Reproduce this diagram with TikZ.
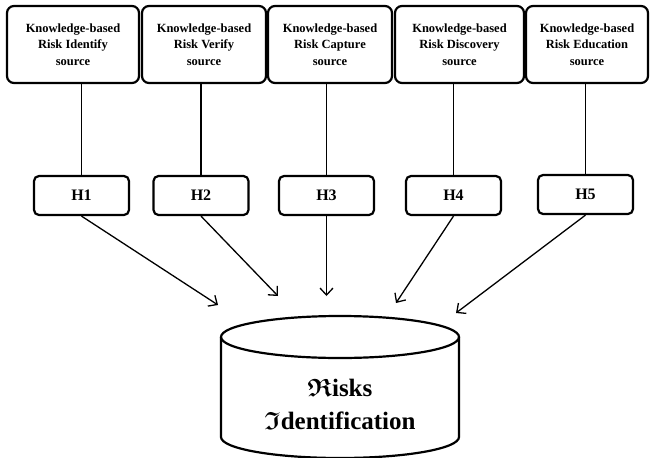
\documentclass[tikz,border=0pt]{standalone}
\usepackage{amsmath, amssymb}
\usepackage{fontspec}
\setmainfont{Liberation Serif}
\usetikzlibrary{arrows.meta}

\begin{document}
\begin{tikzpicture}[x = 1pt, y = -1pt,
        srcbox/.style = {draw, line width = 2.2pt, rounded corners = 7pt, minimum height = 77pt, align = center, font = \fontsize{12.5}{16.5}\selectfont\bfseries},
        hbox/.style = {draw, line width = 2.2pt, rounded corners = 5pt, minimum width = 95pt, minimum height = 39pt, font = \fontsize{16}{18}\selectfont\bfseries},
        link/.style = {line width = 1.6pt},
        feed/.style = {line width = 1.3pt, -{Straight Barb[length = 7pt, width = 13pt]}},
        dbline/.style = {line width = 2.2pt}]
        \useasboundingbox (0,0) rectangle (651,458);
        \node[srcbox, minimum width = 132pt] (src1) at (73,44.5) {Knowledge-based\\Risk Identify\\source};
        \node[srcbox, minimum width = 124pt] (src2) at (204,44.5) {Knowledge-based\\Risk Verify\\source};
        \node[srcbox, minimum width = 124pt] (src3) at (330,44.5) {Knowledge-based\\Risk Capture\\source};
        \node[srcbox, minimum width = 129pt] (src4) at (459.5,44.5) {Knowledge-based\\Risk Discovery\\source};
        \node[srcbox, minimum width = 122pt] (src5) at (587,44.5) {Knowledge-based\\Risk Education\\source};
        \node[hbox] (h1) at (81.5,195.5) {H1};
        \node[hbox] (h2) at (201,195.5) {H2};
        \node[hbox] (h3) at (326.5,195.5) {H3};
        \node[hbox] (h4) at (453.5,195.5) {H4};
        \node[hbox] (h5) at (585.5,194.5) {H5};
        \foreach \i in {1,...,5}
                \draw[link] (h\i.north |- src\i.south) -- (h\i.north);
        \coordinate (dbtop) at (340,337);
        \draw[dbline] (dbtop) ellipse [x radius = 119, y radius = 21];
        \draw[dbline] (dbtop) ++(-119,0) -- ++(0,100) arc [start angle = 180, end angle = 0, x radius = 119, y radius = 21] -- ++(0,-100);
        \node[align = center, font = \fontsize{25}{33}\selectfont\bfseries] (dbname) at (340,404) {$\boldsymbol{\mathfrak{R}}$isks\\$\boldsymbol{\mathfrak{I}}$dentification};
        \coordinate (e1) at (218,305);
        \coordinate (e2) at (278,296);
        \coordinate (e3) at (326.5,296);
        \coordinate (e4) at (396,303);
        \coordinate (e5) at (456,313);
        \foreach \i in {1,...,5}
                \draw[feed] (h\i.south) -- (e\i);
      \end{tikzpicture}
\end{document}
